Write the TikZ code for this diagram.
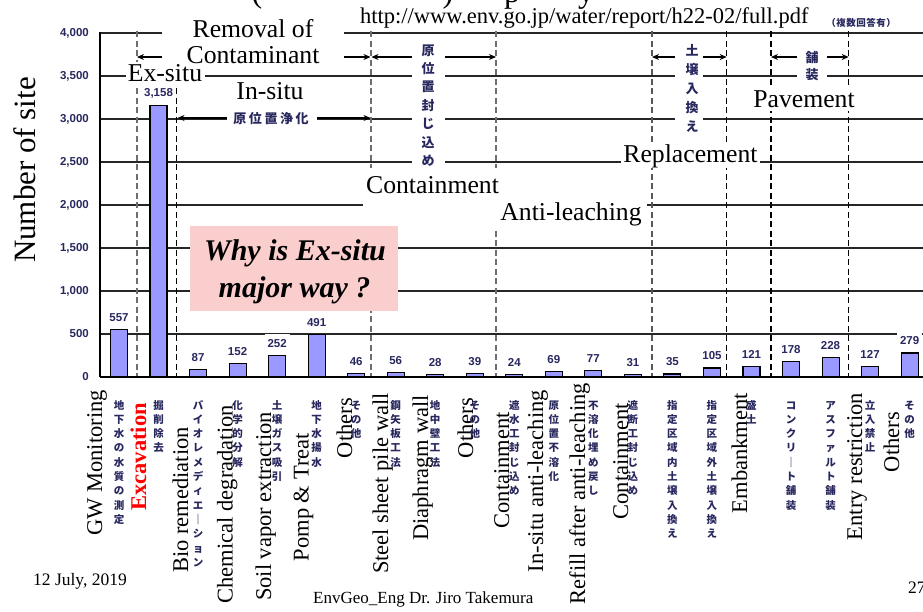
\documentclass[tikz,border=0pt]{standalone}
\usepackage{fontspec}
\setmainfont{Liberation Serif}
\newfontfamily\jp{Noto Sans CJK JP}
\newfontfamily\num{Liberation Sans}
\usetikzlibrary{arrows.meta}
\definecolor{navy}{RGB}{40,40,95}
\definecolor{barblue}{RGB}{153,153,255}
\definecolor{pinkbox}{RGB}{251,206,206}
\definecolor{dgray}{RGB}{110,110,110}
\ExplSyntaxOn
\NewDocumentCommand\vj{mm}{
  \tl_set:Nx \l_tmpa_tl {#2}
  \vtop{\baselineskip=#1\lineskiplimit=-100pt\lineskip=0pt
    \tl_map_inline:Nn \l_tmpa_tl {\hbox{##1}}}
}
\NewDocumentCommand\hj{mm}{
  \tl_set:Nx \l_tmpa_tl {#2}
  \tl_map_inline:Nn \l_tmpa_tl {\hbox~to~#1{\hss##1\hss}}
}
\ExplSyntaxOff
\begin{document}
\begin{tikzpicture}[x=1pt,y=-1pt,
  gline/.style={line width=1.1pt, black!85},
  vdash/.style={line width=1.1pt, dash pattern=on 6pt off 3.5pt},
  bar/.style={draw=black, line width=1.1pt, fill=barblue},
  arr/.style={line width=1.1pt, {Stealth[length=7pt,width=6pt]}-{Stealth[length=7pt,width=6pt]}},
  vlab/.style={fill=white, inner xsep=3pt, inner ysep=5.5pt, text=navy, font=\num\bfseries\fontsize{11.5}{12}\selectfont},
  tick/.style={anchor=east, inner sep=0pt, text=navy, font=\num\bfseries\fontsize{11.5}{12}\selectfont},
  xlab/.style={rotate=90, anchor=base east, inner sep=0pt, font=\fontsize{22.5}{27}\selectfont},
  jlab/.style={anchor=base, inner sep=0pt, text=navy, font=\jp\bfseries\fontsize{10.5}{12}\selectfont},
  jtop/.style={anchor=base, inner sep=0pt, text=navy, font=\jp\bfseries\fontsize{13}{14}\selectfont},
  en/.style={anchor=base, inner sep=0pt, font=\fontsize{25.7}{26}\selectfont},
  cover/.style={fill=white, draw=none},
  foot/.style={anchor=base west, inner sep=0pt, font=\fontsize{17.5}{20}\selectfont}
]
\useasboundingbox (0,0) rectangle (923,611);
\fill[white] (0,0) rectangle (923,611);

% gridlines
\foreach \v in {500,1000,...,4000}
  \draw[gline] (100,{377-0.086*\v}) -- (923,{377-0.086*\v});

% dashed separators
\foreach \x/\c in {137/dgray,176.7/black,371/dgray,496/dgray,652/dgray!80!black,726.7/black,771/black,848.7/black}
  \draw[vdash,\c] (\x,31) -- (\x,377);

% arrows
\draw[arr] (137,57) -- (370.5,57);
\draw[arr] (371.5,57) -- (496,57);
\draw[arr] (177.5,118) -- (370.5,118);
\draw[arr] (652,57) -- (726.7,57);
\draw[arr] (771,57) -- (848.7,57);

% bars
\foreach \v [count=\i from 0] in {557,3158,87,152,252,491,46,56,28,39,24,69,77,31,35,105,121,178,228,127,279}
  \draw[bar] ({119+39.53*\i-8.5},377) rectangle ({119+39.53*\i+8.5},{377-0.086*\v});

% white covers behind labels
\fill[cover] (162,14) rectangle (344,69);
\fill[cover] (126,62) rectangle (205,88);
\fill[cover] (750,86) rectangle (858,111);
\fill[cover] (621,143) rectangle (760,168);
\fill[cover] (363,168) rectangle (500,228);
\fill[cover] (496,198) rectangle (647,228);
\fill[cover] (412,40) rectangle (445,168);
\fill[cover] (675,40) rectangle (703,134);
\fill[cover] (797,47) rectangle (827,83);
\fill[cover] (227,110) rectangle (317,126);

% pink question box
\fill[pinkbox] (190,226) rectangle (398,311);
\node[anchor=base, inner sep=0pt, font=\bfseries\itshape\fontsize{30}{30}\selectfont] (q1) at (295,260) {Why is Ex-situ};
\node[anchor=base, inner sep=0pt, font=\bfseries\itshape\fontsize{30}{30}\selectfont] (q2) at (294.5,297) {major way ?};

% value labels
\foreach \v/\t [count=\i from 0] in {557/557,3158/{3,158},87/87,152/152,252/252,491/491,46/46,56/56,28/28,39/39,24/24,69/69,77/77,31/31,35/35,105/105,121/121,178/178,228/228,127/127,279/279}
  \node[vlab] (v\i) at ({119+39.53*\i},{377-0.086*\v-12}) {\t};

% axes
\draw[line width=1.1pt] (100,32) -- (100,377);
\draw[line width=2pt] (100,377) -- (923,377);

% tick labels
\foreach \v/\t [count=\i] in {0/0,500/500,1000/{1,000},1500/{1,500},2000/{2,000},2500/{2,500},3000/{3,000},3500/{3,500},4000/{4,000}}
  \node[tick] (t\i) at (89,{377-0.086*\v}) {\t};

% y axis title
\node[rotate=90, anchor=base, inner sep=0pt, font=\fontsize{31}{31}\selectfont] (ylab) at (35,170) {Number of site};

% top English labels
\node[en] (rem1) at (253,37) {Removal of};
\node[en] (rem2) at (253,63) {Contaminant};
\node[en] (exs) at (165,81.7) {Ex-situ};
\node[en] (ins) at (270,99) {In-situ};
\node[en] (pav) at (804,107) {Pavement};
\node[en] (rep) at (690.5,162.3) {Replacement};
\node[en] (con) at (432.5,193.3) {Containment};
\node[en] (ant) at (571,220.7) {Anti-leaching};

% top Japanese labels
\node[jtop] (jt1) at (428,55) {\vj{18.45pt}{原位置封じ込め}};
\node[jtop] (jt2) at (692,55) {\vj{19.2pt}{土壌入換え}};
\node[jtop] (jt3) at (812,62) {\vj{17pt}{舗装}};
\node[jtop, font=\jp\bfseries\fontsize{13}{14}\selectfont] (jt4) at (271,123) {\hj{15.6pt}{原位置浄化}};
\node[anchor=base west, inner sep=0pt, text=navy, font=\jp\bfseries\fontsize{9.5}{10}\selectfont] (jt5) at (826,26) {\hj{10pt}{（複数回答有）}};

% URL and title remnants
\node[anchor=base west, inner sep=0pt, font=\fontsize{22.5}{24}\selectfont] (url) at (360,23) {http://www.env.go.jp/water/report/h22-02/full.pdf};
\node[anchor=base, inner sep=0pt, font=\fontsize{32}{32}\selectfont] (ti1) at (257,2) {(};
\node[anchor=base, inner sep=0pt, font=\fontsize{32}{32}\selectfont] (ti2) at (448,2) {)};
\node[anchor=base, inner sep=0pt, font=\fontsize{32}{32}\selectfont] (ti3) at (512,2) {p};
\node[anchor=base, inner sep=0pt, font=\fontsize{32}{32}\selectfont] (ti4) at (586,2) {y};

% x-axis English labels
\foreach \x/\y/\t [count=\i] in {102/390/GW Monitoring,188/427/Bio remediation,232.5/405/Chemical degradation,271/412/Soil vapor extraction,308.5/433/Pomp \& Treat,352/398/Others,388/393/Steel sheet pile wall,428/395/Diaphragm wall,473/398/Others,509/412/Containment,543/390/In-situ anti-leaching,585/383/Refill after anti-leaching,628/403/Containment,747/393/Embankment,862/393/Entry restriction,899/412/Others}
  \node[xlab] (e\i) at (\x,\y) {\t};
\node[xlab, text=red, font=\bfseries\fontsize{22.5}{27}\selectfont] (exc) at (146,403) {Excavation};

% x-axis Japanese labels
\foreach \s [count=\i from 0] in {地下水の水質の測定,掘削除去,バイオレメディエ｜ション,化学的分解,土壌ガス吸引,地下水揚水,その他,鋼矢板工法,地中壁工法,その他,遮水工封じ込め,原位置不溶化,不溶化埋め戻し,遮断工封じ込め,指定区域内土壌入換え,指定区域外土壌入換え,盛土,コンクリ｜ト舗装,アスファルト舗装,立入禁止,その他}
  \node[jlab] (j\i) at ({119+39.53*\i},409) {\vj{14.3pt}{\s}};

% footer
\node[foot] (date) at (33,585) {12 July, 2019};
\node[foot, font=\fontsize{17}{20}\selectfont] (auth) at (313,603) {EnvGeo\_Eng Dr. Jiro Takemura};
\node[foot] (page) at (908,593) {27};
\end{tikzpicture}
\end{document}
